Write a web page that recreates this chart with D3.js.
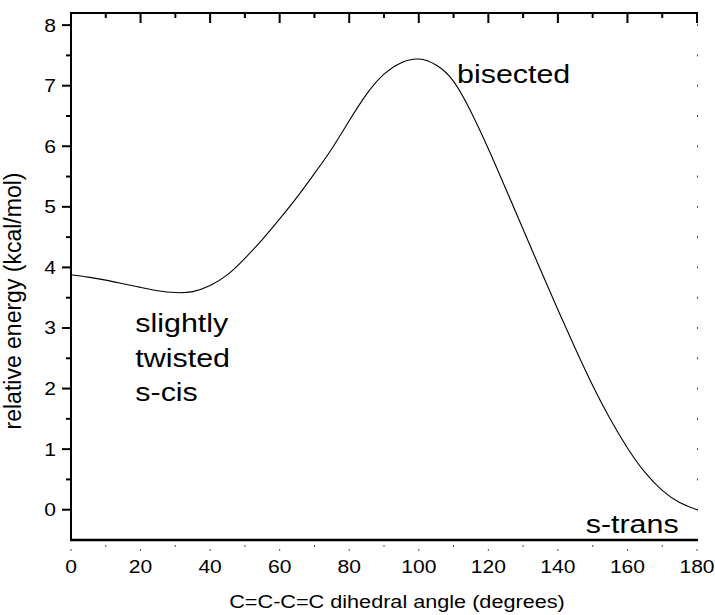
<!DOCTYPE html>
<html><head><meta charset="utf-8">
<script src="https://cdn.jsdelivr.net/npm/d3@7"></script>
<style>
html,body{margin:0;padding:0;background:#fff;}
svg text{font-family:"Liberation Sans",Arial,sans-serif;fill:#000;}
</style></head>
<body>
<script>
// Data
const angles = [0,5,10,15,20,25,30,35,40,45,50,55,60,65,70,75,80,85,90,95,100,105,110,115,120,125,130,135,140,145,150,155,160,165,170,175,180];
const energies = [3.88,3.84,3.79,3.73,3.67,3.615,3.585,3.60,3.70,3.88,4.15,4.46,4.80,5.16,5.55,5.96,6.42,6.86,7.19,7.38,7.44,7.34,7.07,6.57,5.96,5.30,4.63,3.96,3.30,2.66,2.05,1.50,1.02,0.62,0.32,0.12,0.0];
const xTicks = [0,20,40,60,80,100,120,140,160,180];
const xMinorTicks = [10,30,50,70,90,110,130,150,170];
const yTicks = [0,1,2,3,4,5,6,7,8];
const yMinorTicks = [0.5,1.5,2.5,3.5,4.5,5.5,6.5,7.5];
const xTitle = "C=C-C=C dihedral angle (degrees)";
const yTitle = "relative energy (kcal/mol)";
const labels = [
  {text:"bisected", x:111, y:7.05},
  {text:"slightly", x:18.5, y:2.93},
  {text:"twisted", x:18.5, y:2.35},
  {text:"s-cis", x:18.5, y:1.8},
  {text:"s-trans", x:148, y:-0.38}
];

const W = 715, H = 615;
const SX = 1.17; // horizontal stretch of glyphs in the reference
const svg = d3.select("body").append("svg").attr("width", W).attr("height", H);

const xs = d3.scaleLinear().domain([0,180]).range([71,697]);
const ys = d3.scaleLinear().domain([-0.5,8.2]).range([540,13]);

function stext(g, str, px, py, size, anchor){
  return g.append("text")
    .attr("transform", `translate(${px},${py}) scale(${SX},1)`)
    .attr("text-anchor", anchor||"start")
    .style("font-size", size+"px")
    .text(str);
}

// Curve
const line = d3.line().x((d,i)=>xs(angles[i])).y(d=>ys(d)).curve(d3.curveNatural);
svg.append("path").datum(energies).attr("d", line)
  .attr("fill","none").attr("stroke","#000").attr("stroke-width",1.1);

// Left axis
const leftAx = svg.append("g").attr("transform",`translate(${xs(0)},0)`);
leftAx.append("line").attr("x1",0).attr("x2",0).attr("y1",ys(8.2)).attr("y2",ys(-0.5)).attr("stroke","#000").attr("stroke-width",2);
leftAx.selectAll(".maj").data(yTicks).join("line").attr("class","maj").attr("x1",-9).attr("x2",0).attr("y1",d=>ys(d)).attr("y2",d=>ys(d)).attr("stroke","#000").attr("stroke-width",2);
leftAx.selectAll(".min").data(yMinorTicks).join("line").attr("class","min").attr("x1",-5).attr("x2",0).attr("y1",d=>ys(d)).attr("y2",d=>ys(d)).attr("stroke","#000").attr("stroke-width",2);
yTicks.forEach(t=>{ stext(svg, String(t), 56, ys(t)+6.5, 18, "end"); });

// Top axis
const topAx = svg.append("g").attr("transform",`translate(0,${ys(8.2)})`);
topAx.append("line").attr("x1",xs(0)-1).attr("x2",xs(180)+1).attr("y1",0).attr("y2",0).attr("stroke","#000").attr("stroke-width",2);
topAx.selectAll(".tmaj").data(xTicks.filter(d=>d>0)).join("line").attr("class","tmaj").attr("x1",d=>xs(d)).attr("x2",d=>xs(d)).attr("y1",0).attr("y2",10).attr("stroke","#000").attr("stroke-width",2);
topAx.selectAll(".tmin").data(xMinorTicks).join("line").attr("class","tmin").attr("x1",d=>xs(d)).attr("x2",d=>xs(d)).attr("y1",0).attr("y2",5).attr("stroke","#000").attr("stroke-width",2);

// Right axis: only tiny tick dots
svg.selectAll(".rdot").data(yTicks.concat(yMinorTicks)).join("rect").attr("class","rdot")
  .attr("x",xs(180)).attr("y",d=>ys(d)-1).attr("width",1).attr("height",2).attr("fill","#444");

// Bottom axis
svg.append("line").attr("x1",xs(0)-1).attr("x2",xs(180)+1).attr("y1",ys(-0.5)).attr("y2",ys(-0.5)).attr("stroke","#000").attr("stroke-width",2.5);
svg.selectAll(".bmaj").data(xTicks).join("rect").attr("class","bmaj").attr("x",d=>xs(d)-0.5).attr("y",549).attr("width",1).attr("height",2).attr("fill","#555");
svg.selectAll(".bmin").data(xMinorTicks).join("rect").attr("class","bmin").attr("x",d=>xs(d)-0.5).attr("y",545).attr("width",1).attr("height",2).attr("fill","#555");
xTicks.forEach(t=>{ stext(svg, String(t), xs(t), 573, 18, "middle"); });

// Axis titles
stext(svg, xTitle, 397, 608, 18.5, "middle");
svg.append("text")
  .attr("transform", `translate(21,301) rotate(-90)`)
  .attr("text-anchor","middle").style("font-size","23px").text(yTitle);

// Annotations
labels.forEach(l=>{ stext(svg, l.text, xs(l.x), ys(l.y), 26, "start"); });
</script>
</body></html>
